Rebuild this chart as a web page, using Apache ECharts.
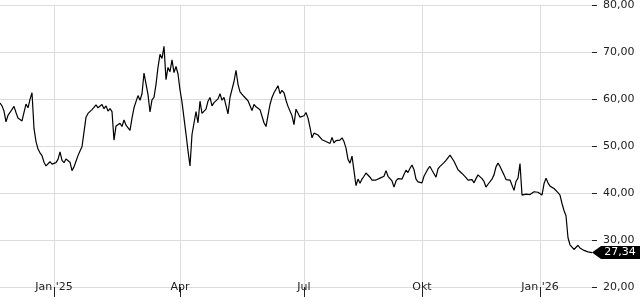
<!DOCTYPE html>
<html>
<head>
<meta charset="utf-8">
<script src="https://cdn.jsdelivr.net/npm/echarts@6/dist/echarts.min.js"></script>
<style>
html,body{margin:0;padding:0;background:#fff;}
#chart{width:640px;height:300px;}
</style>
</head>
<body>
<div id="chart"></div>
<script>
// Price series (sampled evenly along the time axis)
const prices = [
  59.2, 58.6, 57.5, 55.2, 56.6, 57.2, 57.6, 58.5, 57.2, 56.0,
  55.6, 55.4, 57.2, 59.0, 58.2, 60.0, 61.4, 53.8, 51.0, 49.4,
  48.6, 48.0, 46.6, 45.8, 45.4, 46.7, 46.2, 46.0, 46.5, 47.2,
  48.8, 47.0, 46.5, 47.3, 46.9, 46.6, 44.8, 45.6, 46.8, 48.0,
  49.0, 49.9, 53.0, 56.2, 57.0, 57.4, 57.8, 58.3, 58.8, 58.2,
  58.4, 58.9, 58.0, 58.6, 57.5, 58.0, 57.4, 51.3, 54.3, 54.6,
  54.9, 54.2, 55.6, 54.5, 54.8, 53.4, 56.0, 58.2, 59.5, 60.8,
  59.8, 61.2, 65.6, 63.3, 61.0, 57.3, 59.9, 60.4, 63.2, 66.8,
  69.6, 68.7, 71.3, 64.2, 66.8, 65.9, 68.4, 65.7, 67.0, 65.4,
  62.0, 59.4, 56.0, 52.6, 49.0, 45.8, 52.5, 52.9, 57.4, 55.0,
  59.6, 57.0, 56.8, 57.9, 59.6, 60.4, 58.6, 59.3, 58.9, 60.1,
  61.2, 59.8, 60.4, 60.3, 56.9, 60.4, 60.7, 63.8, 66.2, 63.2,
  61.6, 62.0, 60.6, 60.8, 59.7, 59.4, 57.6, 58.9, 58.4, 58.2,
  57.8, 56.4, 55.0, 54.2, 56.6, 58.9, 60.4, 61.4, 61.8, 62.9,
  61.2, 61.9, 61.4, 59.8, 58.5, 58.1, 56.5, 54.6, 57.9, 58.1,
  56.2, 56.6, 56.5, 57.2, 56.0, 54.0, 51.8, 52.8, 53.1, 52.4,
  52.8, 51.4, 51.6, 51.0, 51.3, 50.6, 51.9, 50.7, 51.2, 51.0,
  51.3, 51.8, 51.0, 49.6, 47.2, 46.4, 47.9, 48.0, 41.6, 43.0,
  42.1, 43.0, 43.6, 44.3, 43.9, 43.4, 42.8, 42.6, 42.8, 43.1,
  43.2, 43.4, 43.6, 44.8, 43.6, 43.2, 42.6, 41.3, 42.6, 43.1,
  43.2, 43.0, 44.0, 44.9, 44.4, 45.3, 46.0, 45.0, 43.0, 42.4,
  42.2, 42.2, 43.6, 44.4, 45.2, 45.7, 44.9, 44.5, 43.4, 45.2,
  45.7, 46.1, 46.5, 47.0, 47.4, 48.1, 47.7, 46.8, 45.9, 45.0,
  44.6, 44.2, 43.8, 43.3, 42.8, 42.5, 42.9, 42.2, 43.1, 43.9,
  43.8, 43.1, 42.5, 41.3, 41.9, 42.1, 43.0, 43.9, 45.6, 46.4,
  45.7, 44.8, 43.9, 42.9, 43.2, 42.8, 43.0, 40.6, 42.5, 43.2,
  46.3, 39.6, 40.0, 39.8, 39.6, 39.7, 40.1, 40.3, 40.5, 40.2,
  40.3, 39.6, 42.0, 43.2, 42.2, 41.5, 41.3, 41.0, 40.7, 40.1,
  39.6, 37.8, 36.3, 35.2, 30.5, 29.0, 28.5, 28.0, 28.1, 28.9,
  28.3, 27.9, 27.8, 27.7, 27.5, 27.3, 27.34
];
// x-axis tick labels and the sample index where each falls
const tickLabels = ["Jan '25", "Apr", "Jul", "Okt", "Jan '26"];
const tickIndex = [27, 90, 152, 211, 270];
// category = sample index
const categories = prices.map((_, i) => String(i));

const FONT = 'DejaVu Sans';
const fmt = v => v.toFixed(2).replace('.', ',');
const isTick = idx => tickIndex.indexOf(idx) >= 0;

const chart = echarts.init(document.getElementById('chart'), null, {renderer: 'canvas'});
const last = prices.length - 1;
chart.setOption({
  animation: false,
  backgroundColor: '#fff',
  grid: {left: 0, right: 48, top: 5.3, bottom: 13, containLabel: false},
  xAxis: {
    type: 'category',
    data: categories,
    boundaryGap: false,
    axisLine: {show: false},
    axisTick: {show: true, length: 10, interval: (i) => isTick(i), lineStyle: {color: '#222', width: 1}},
    axisLabel: {
      show: true, interval: (i) => isTick(i),
      formatter: (v, i) => tickLabels[tickIndex.indexOf(i)] || '',
      verticalAlign: 'middle', margin: 0,
      fontFamily: FONT, fontSize: 11, color: '#222'
    },
    splitLine: {show: true, interval: (i) => isTick(i), lineStyle: {color: '#dcdcdc', width: 1}}
  },
  yAxis: {
    type: 'value', position: 'right',
    min: 20, max: 80, interval: 10,
    axisLine: {show: false},
    axisTick: {show: true, length: 5, lineStyle: {color: '#222', width: 1}},
    axisLabel: {margin: 11, fontFamily: FONT, fontSize: 11, color: '#222', formatter: fmt},
    splitLine: {show: true, lineStyle: {color: '#dcdcdc', width: 1}}
  },
  series: [{
    type: 'line',
    data: prices,
    showSymbol: false,
    symbol: 'none',
    lineStyle: {color: '#000', width: 1.2},
    markPoint: {
      symbol: 'path://M0,6.5L9,0L50,0L50,13L9,13Z',
      symbolSize: [50, 13],
      symbolKeepAspect: false,
      symbolOffset: [25, 0],
      itemStyle: {color: '#000'},
      label: {show: true, position: 'inside', offset: [3, 0], color: '#fff', fontFamily: FONT, fontSize: 11,
               formatter: p => fmt(p.value)},
      data: [{coord: [last, prices[last]], value: prices[last]}]
    }
  }]
});
</script>
</body>
</html>
